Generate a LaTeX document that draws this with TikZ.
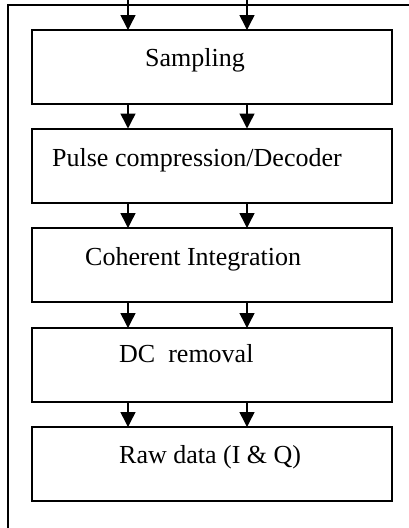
\documentclass[tikz,border=0pt]{standalone}
\usepackage{fontspec}
\setmainfont{Liberation Serif}
\usetikzlibrary{arrows.meta}
\begin{document}
\begin{tikzpicture}[x=1pt,y=-1pt,
  stagebox/.style={draw=black, line width=2pt, rectangle, minimum width=360pt, minimum height=74pt, inner sep=0pt, outer sep=0pt},
  lbl/.style={anchor=base west, inner sep=0pt, font=\fontsize{26}{30}\selectfont},
  flow/.style={line width=1.5pt, -{Triangle[width=15pt,length=15pt]}},
  frame/.style={line width=1.5pt}]
\useasboundingbox (0,0) rectangle (409,528);

% outer frame (top and left edges)
\coordinate (fl) at (8,528);
\coordinate (fc) at (8,5);
\coordinate (fr) at (409,5);
\draw[frame] (fl) -- (fc) -- (fr);

% processing stages
\node[stagebox] (b1) at (212,67) {};
\node[stagebox] (b2) at (212,165.5) {};
\node[stagebox] (b3) at (212,265) {};
\node[stagebox] (b4) at (212,365) {};
\node[stagebox] (b5) at (212,464) {};

% stage labels
\node[lbl] (t1) at (145,66) {Sampling};
\node[lbl] (t2) at (52,166) {Pulse compression/Decoder};
\node[lbl] (t3) at (85,265) {Coherent Integration};
\node[lbl] (t4) at (119,362) {DC\ \ removal};
\node[lbl] (t5) at (119,463) {Raw data (I \& Q)};

% two data channels
\coordinate (ca) at (128,0);
\coordinate (cb) at (247,0);
\draw[flow] (ca) -- (ca |- b1.north);
\draw[flow] (cb) -- (cb |- b1.north);
\foreach \u/\v in {b1/b2, b2/b3, b3/b4, b4/b5}{
  \draw[flow] (ca |- \u.south) -- (ca |- \v.north);
  \draw[flow] (cb |- \u.south) -- (cb |- \v.north);
}
\end{tikzpicture}
\end{document}
